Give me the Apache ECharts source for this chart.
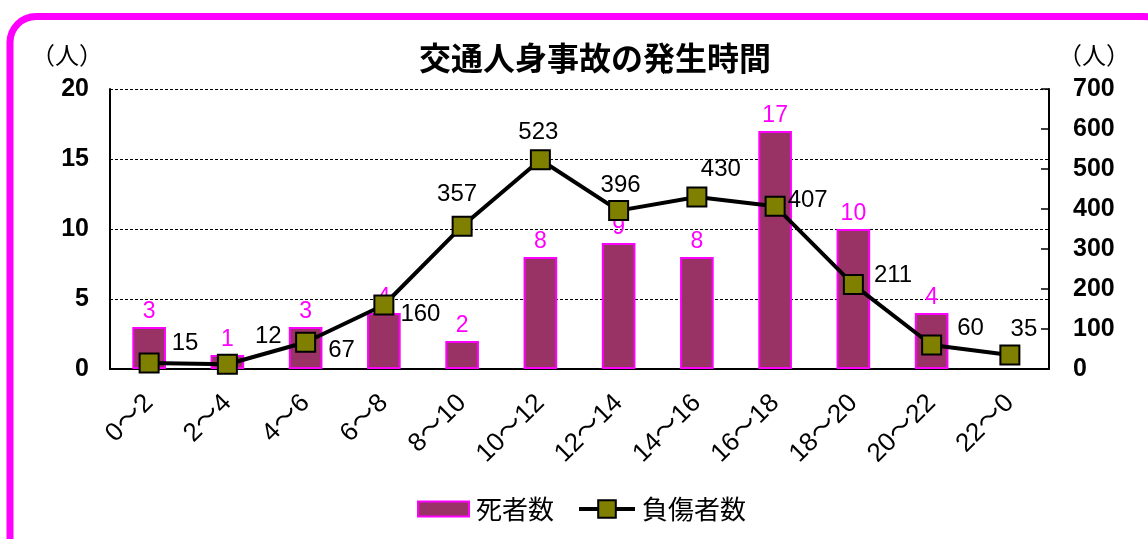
<!DOCTYPE html>
<html><head><meta charset="utf-8">
<style>html,body{margin:0;padding:0;background:#fff}#c{width:1148px;height:539px}</style>
<script src="https://cdn.jsdelivr.net/npm/echarts@6/dist/echarts.min.js"></script>
</head><body><div id="c"></div>
<script>
const categories = ['0～2','2～4','4～6','6～8','8～10','10～12','12～14','14～16','16～18','18～20','20～22','22～0'];
const deaths = [3,1,3,4,2,8,9,8,17,10,4,0];
const injured = [15,12,67,160,357,523,396,430,407,211,60,35];
const injuredLabelPos = ['right','right','right','right','top','top','top','top','right','right','right','top'];
const injuredLabelOffset = [[7,-20],[12,-28],[7,8],[1,9],[-5,-4],[-2,0],[2,2],[24,0],[-3,-6],[5,-9],[10,-17],[14,2]];

const FONT = '"Liberation Sans", "Noto Sans CJK JP", sans-serif';
const JP = '"Noto Sans CJK JP", sans-serif';
const chart = echarts.init(document.getElementById('c'));
chart.setOption({
  animation: false,
  textStyle: {fontFamily: FONT},
  graphic: [{
    type: 'rect', shape: {x: 10, y: 16.5, width: 1160, height: 560, r: 26},
    style: {fill: 'none', stroke: '#ff00ff', lineWidth: 7}, z: 100
  }, {
    type: 'text', left: 31, top: 43, style: {text: '（人）', font: '24px ' + JP, fill: '#000'}
  }, {
    type: 'text', left: 1058, top: 43, style: {text: '（人）', font: '24px ' + JP, fill: '#000'}
  }],
  title: {
    text: '交通人身事故の発生時間', left: 414, top: 37,
    textStyle: {fontSize: 32, fontWeight: 'bold', color: '#000', fontFamily: JP}
  },
  legend: [{
    bottom: 12, left: 412, itemWidth: 51, itemHeight: 15, itemGap: 0,
    textStyle: {fontSize: 26, color: '#000', fontFamily: JP, padding: [0, 0, 0, 2]},
    data: [{name: '死者数', icon: 'rect'}]
  }, {
    bottom: 12, left: 572, itemWidth: 56, itemHeight: 22, itemGap: 0,
    textStyle: {fontSize: 26, color: '#000', fontFamily: JP, padding: [0, 0, 0, 2]},
    data: [{name: '負傷者数', lineStyle: {width: 4, color: '#000'}}]
  }],
  grid: {left: 110, right: 99, top: 89, bottom: 170},
  xAxis: {
    type: 'category', data: categories,
    axisLine: {lineStyle: {color: '#000', width: 2}},
    axisTick: {show: false},
    axisLabel: {rotate: 45, fontSize: 26, color: '#000', margin: 30, fontFamily: FONT}
  },
  yAxis: [{
    type: 'value', min: 0, max: 20, interval: 5,
    axisLine: {show: true, lineStyle: {color: '#000', width: 2}},
    axisTick: {show: false},
    axisLabel: {fontSize: 25, fontWeight: 'bold', color: '#000', margin: 21, fontFamily: FONT},
    splitLine: {show: true, lineStyle: {color: '#000', type: [3, 2], width: 1}}
  }, {
    type: 'value', min: 0, max: 700, interval: 100,
    axisLine: {show: true, lineStyle: {color: '#000', width: 2}},
    axisTick: {show: true, inside: true, length: 8, lineStyle: {color: '#000', width: 1.5}},
    axisLabel: {fontSize: 25, fontWeight: 'bold', color: '#000', margin: 24, fontFamily: FONT},
    splitLine: {show: false}
  }],
  series: [{
    name: '死者数', type: 'bar', barWidth: '43%',
    data: deaths.map(v => v === 0 ? {value: v, itemStyle: {borderWidth: 0}} : v),
    itemStyle: {color: '#993366', borderColor: '#ff00ff', borderWidth: 2},
    label: {show: true, position: 'top', color: '#ff00ff', fontSize: 23, distance: 4,
      formatter: p => p.value ? p.value : ''}
  }, {
    name: '負傷者数', type: 'line', yAxisIndex: 1,
    data: injured.map((v, i) => ({value: v, label: {position: injuredLabelPos[i], offset: injuredLabelOffset[i]}})),
    symbol: 'rect', symbolSize: 19,
    lineStyle: {color: '#000', width: 4},
    itemStyle: {color: '#808000', borderColor: '#000', borderWidth: 2},
    label: {show: true, color: '#000', fontSize: 24}
  }]
});
</script></body></html>
